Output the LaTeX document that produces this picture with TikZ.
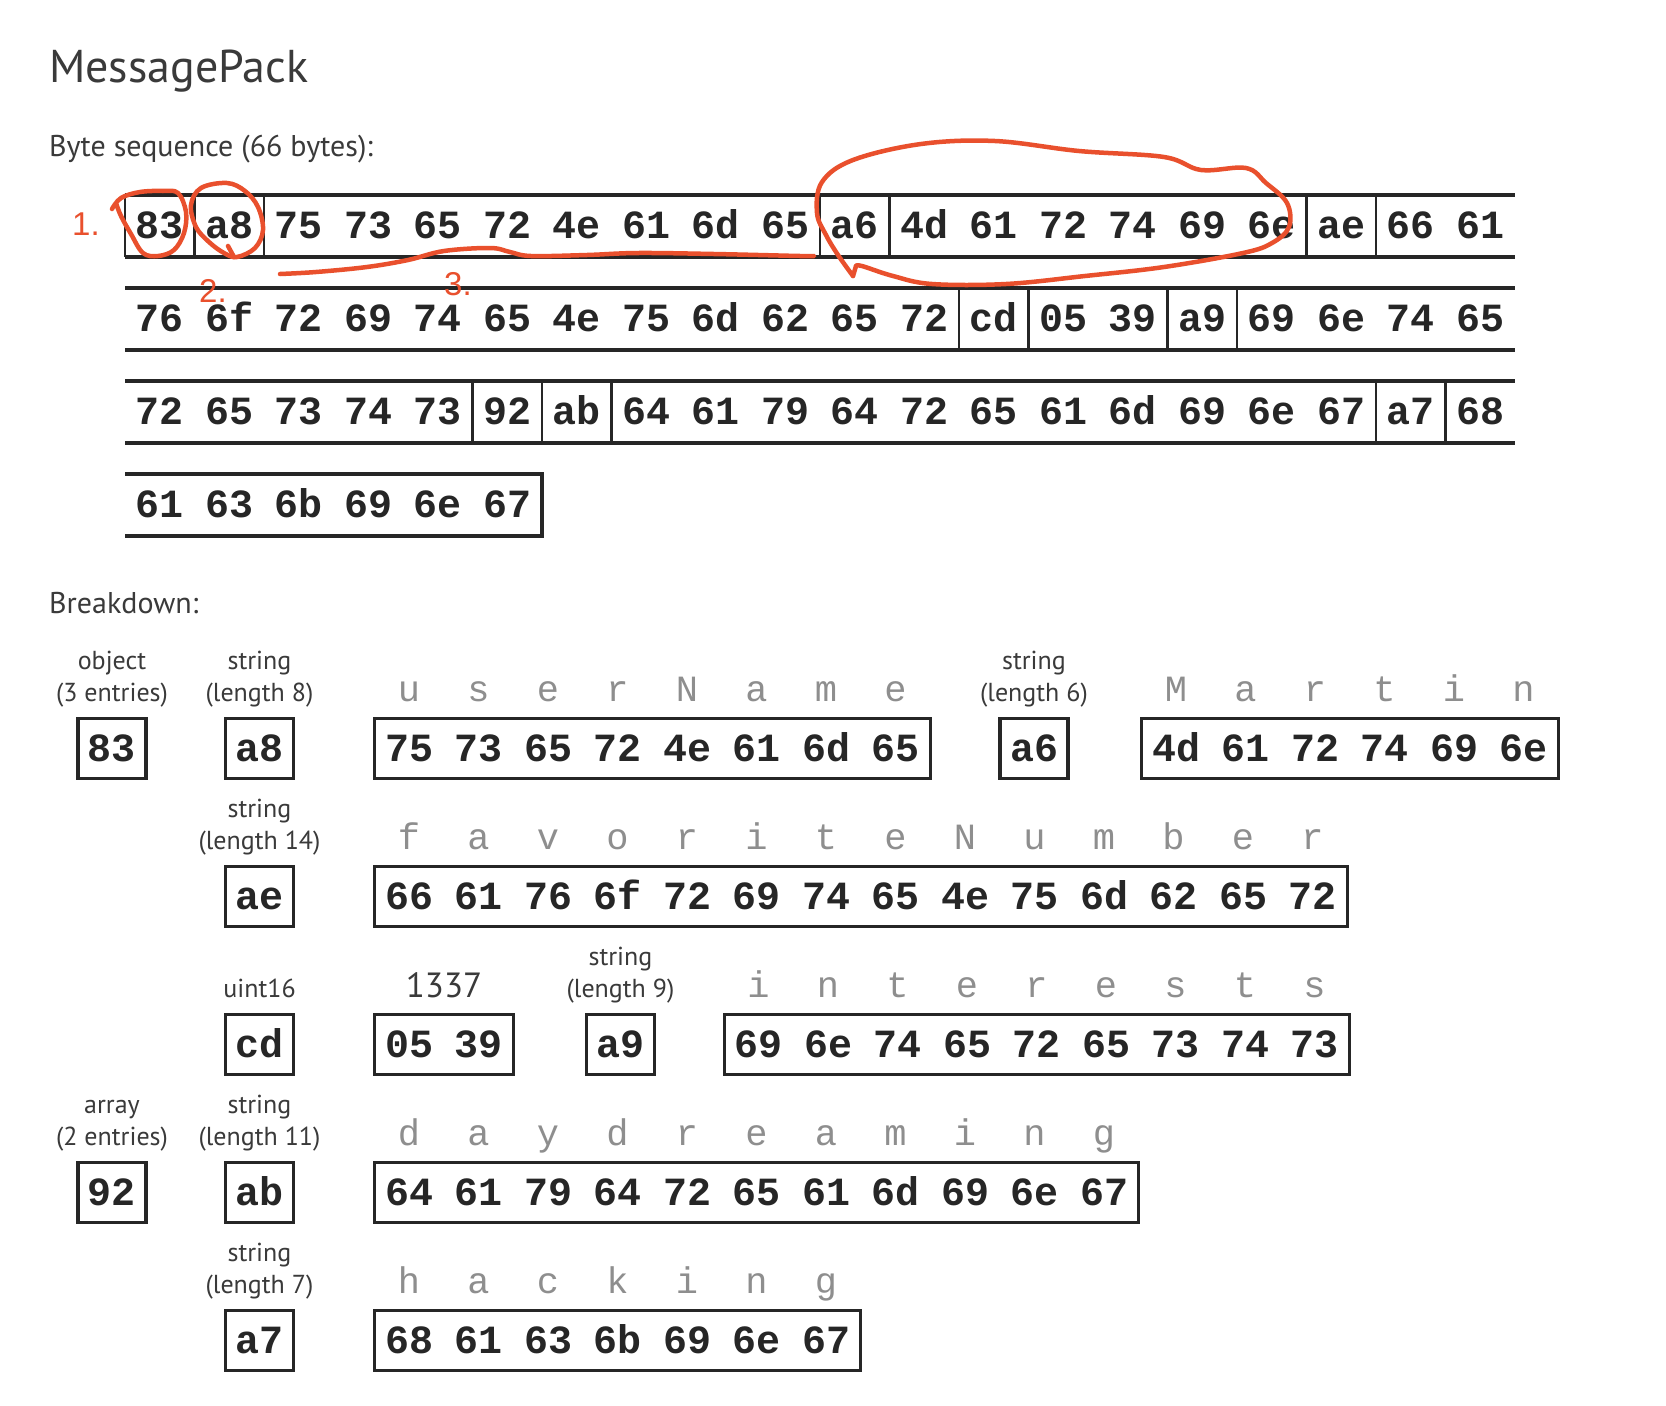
\documentclass[tikz,border=0pt]{standalone}
\usepackage{fontspec}
\setmainfont{PT Sans}
\newfontfamily\monofam{Liberation Mono}
\newfontfamily\redfam{Liberation Sans}
\definecolor{ink}{HTML}{262626}
\definecolor{lbl}{HTML}{3A3A3A}
\definecolor{chrgray}{HTML}{8E8E8E}
\definecolor{pen}{HTML}{E9502D}
% single framed byte: name, centre x, outer top, byte
\newcommand\hexone[4]{%
  \node[frame,minimum width=68pt,anchor=north] (#1) at (#2,#3) {};
  \node[hex] (#1t) at (#2,#3+44) {#4};}
% framed group of bytes: name, outer left x, outer top, count, bytes
\newcommand\hexgrp[5]{%
  \node[frame,minimum width={#4*69.5-0.5},anchor=north west] (#1) at (#2,#3) {};
  \foreach \b [count=\i from 0] in {#5}
    \node[hex] (#1b\i) at ({#2+1.25+(\i+0.5)*69.5},#3+44) {\b};}
% grey characters above a group: name, outer left x, outer top, chars
\newcommand\chrrow[4]{%
  \foreach \c [count=\i from 0] in {#4}
    \node[chr] (#1c\i) at ({#2+1.25+(\i+0.5)*69.5},#3-16) {\c};}
% two-line label: name, centre x, outer top, line1, line2
\newcommand\twolbl[5]{%
  \node[lab] (#1a) at (#2,#3-48) {#4};
  \node[lab] (#1b) at (#2,#3-16) {#5};}
% bytes of a sequence row: prefix, top, bytes
\newcommand\seqrow[3]{%
  \foreach \b [count=\i from 0] in {#3}
    \node[hex] (#1\i) at ({125+(\i+0.5)*69.5},#2+43.5) {\b};}
\begin{document}
\begin{tikzpicture}[x=1pt,y=-1pt,
  hex/.style={anchor=base,inner sep=0pt,text=ink,font=\monofam\bfseries\fontsize{40}{44}\selectfont},
  chr/.style={anchor=base,inner sep=0pt,text=chrgray,font=\monofam\fontsize{37}{40}\selectfont},
  lab/.style={anchor=base,inner sep=0pt,text=lbl,font=\fontsize{26}{30}\selectfont},
  big/.style={anchor=base,inner sep=0pt,text=lbl,font=\fontsize{35}{38}\selectfont},
  head/.style={anchor=base west,inner sep=0pt,text=lbl,font=\fontsize{30}{34}\selectfont},
  ttl/.style={anchor=base west,inner sep=0pt,text=lbl,font=\fontsize{46}{50}\selectfont},
  frame/.style={draw=ink,line width=3.2pt,inner sep=0pt,minimum height=60pt},
  rule/.style={draw=ink,line width=4.2pt},
  sepline/.style={draw=ink,line width=2.8pt},
  penline/.style={draw=pen,line width=4.5pt,line cap=round,line join=round},
  pennum/.style={anchor=base west,inner sep=0pt,text=pen,font=\redfam\fontsize{33}{36}\selectfont}]
\useasboundingbox[fill=white] (0,0) rectangle (1666,1406);

% headings
\node[ttl] (title) at (49,82) {MessagePack};
\node[head] (seqhead) at (49,156) {Byte sequence (66 bytes):};
\node[head] (brkhead) at (49,613) {Breakdown:};

% byte sequence rows
\foreach \t in {195,288,381}{
  \draw[rule] (125,\t) -- (1515,\t);
  \draw[rule] (125,\t+62) -- (1515,\t+62);}
\draw[rule] (125,474) -- (541.75,474) -- (541.75,536) -- (125,536);
\foreach \k in {0,1,2,10,11,17,18} \draw[sepline] ({125+\k*69.5},195) -- ({125+\k*69.5},257);
\foreach \k in {12,13,15,16} \draw[sepline] ({125+\k*69.5},288) -- ({125+\k*69.5},350);
\foreach \k in {5,6,7,18,19} \draw[sepline] ({125+\k*69.5},381) -- ({125+\k*69.5},443);
\seqrow{sa}{195}{83,a8,75,73,65,72,4e,61,6d,65,a6,4d,61,72,74,69,6e,ae,66,61}
\seqrow{sb}{288}{76,6f,72,69,74,65,4e,75,6d,62,65,72,cd,05,39,a9,69,6e,74,65}
\seqrow{sc}{381}{72,65,73,74,73,92,ab,64,61,79,64,72,65,61,6d,69,6e,67,a7,68}
\seqrow{sd}{474}{61,63,6b,69,6e,67}

% breakdown row A
\twolbl{lobj}{112}{717}{object}{(3 entries)}
\hexone{b83}{112}{717}{83}
\twolbl{lstr8}{259.5}{717}{string}{(length 8)}
\hexone{ba8}{259.5}{717}{a8}
\hexgrp{guser}{373}{717}{8}{75,73,65,72,4e,61,6d,65}
\chrrow{guser}{373}{717}{u,s,e,r,N,a,m,e}
\twolbl{lstr6}{1034}{717}{string}{(length 6)}
\hexone{ba6}{1034}{717}{a6}
\hexgrp{gmart}{1140}{717}{6}{4d,61,72,74,69,6e}
\chrrow{gmart}{1140}{717}{M,a,r,t,i,n}

% row B
\twolbl{lstr14}{259.5}{865}{string}{(length 14)}
\hexone{bae}{259.5}{865}{ae}
\hexgrp{gfav}{373}{865}{14}{66,61,76,6f,72,69,74,65,4e,75,6d,62,65,72}
\chrrow{gfav}{373}{865}{f,a,v,o,r,i,t,e,N,u,m,b,e,r}

% row C
\node[lab] (luint) at (259.5,997) {uint16};
\hexone{bcd}{259.5}{1013}{cd}
\node[big] (lnum) at (444,997) {1337};
\hexgrp{gnum}{373}{1013}{2}{05,39}
\twolbl{lstr9}{620.5}{1013}{string}{(length 9)}
\hexone{ba9}{620.5}{1013}{a9}
\hexgrp{gint}{722.5}{1013}{9}{69,6e,74,65,72,65,73,74,73}
\chrrow{gint}{722.5}{1013}{i,n,t,e,r,e,s,t,s}

% row D
\twolbl{larr}{112}{1161}{array}{(2 entries)}
\hexone{b92}{112}{1161}{92}
\twolbl{lstr11}{259.5}{1161}{string}{(length 11)}
\hexone{bab}{259.5}{1161}{ab}
\hexgrp{gday}{373}{1161}{11}{64,61,79,64,72,65,61,6d,69,6e,67}
\chrrow{gday}{373}{1161}{d,a,y,d,r,e,a,m,i,n,g}

% row E
\twolbl{lstr7}{259.5}{1309}{string}{(length 7)}
\hexone{ba7}{259.5}{1309}{a7}
\hexgrp{ghack}{373}{1309}{7}{68,61,63,6b,69,6e,67}
\chrrow{ghack}{373}{1309}{h,a,c,k,i,n,g}

% red hand annotations
\node[pennum] (n1) at (72,235) {1.};
\node[pennum] (n2) at (199,302) {2.};
\node[pennum] (n3) at (444,295) {3.};
\draw[penline] plot[smooth,tension=0.6] coordinates {(112,209) (121,198) (140,192) (163,191) (178,193) (186,212) (184,233) (174,250) (158,256) (143,253) (131,234) (121,216) (116,203)};
\draw[penline] plot[smooth cycle,tension=0.6] coordinates {(227,183) (245,191) (258,207) (263,230) (255,248) (237,257) (224,253) (209,242) (196,227) (191,205) (201,188)};
\draw[penline] (228,246) -- (234,257);
\draw[penline] plot[smooth,tension=0.6] coordinates {(280,274) (316,272) (367,267) (408,260) (444,251) (490,248) (510,252) (531,256) (587,255) (638,253) (714,254) (800,256) (814,256)};
\draw[penline] plot[smooth,tension=0.6] coordinates {(853,276) (838,255) (826,235) (817,213) (822,182) (853,160) (921,144) (995,141) (1079,151) (1164,157) (1201,170) (1246,168) (1266,183) (1287,203) (1289,227) (1272,243) (1243,253) (1164,267) (1085,276) (1006,284) (932,284) (893,276) (862,266) (856,266)};
\draw[penline] (856,266) -- (853,276);
\end{tikzpicture}
\end{document}
